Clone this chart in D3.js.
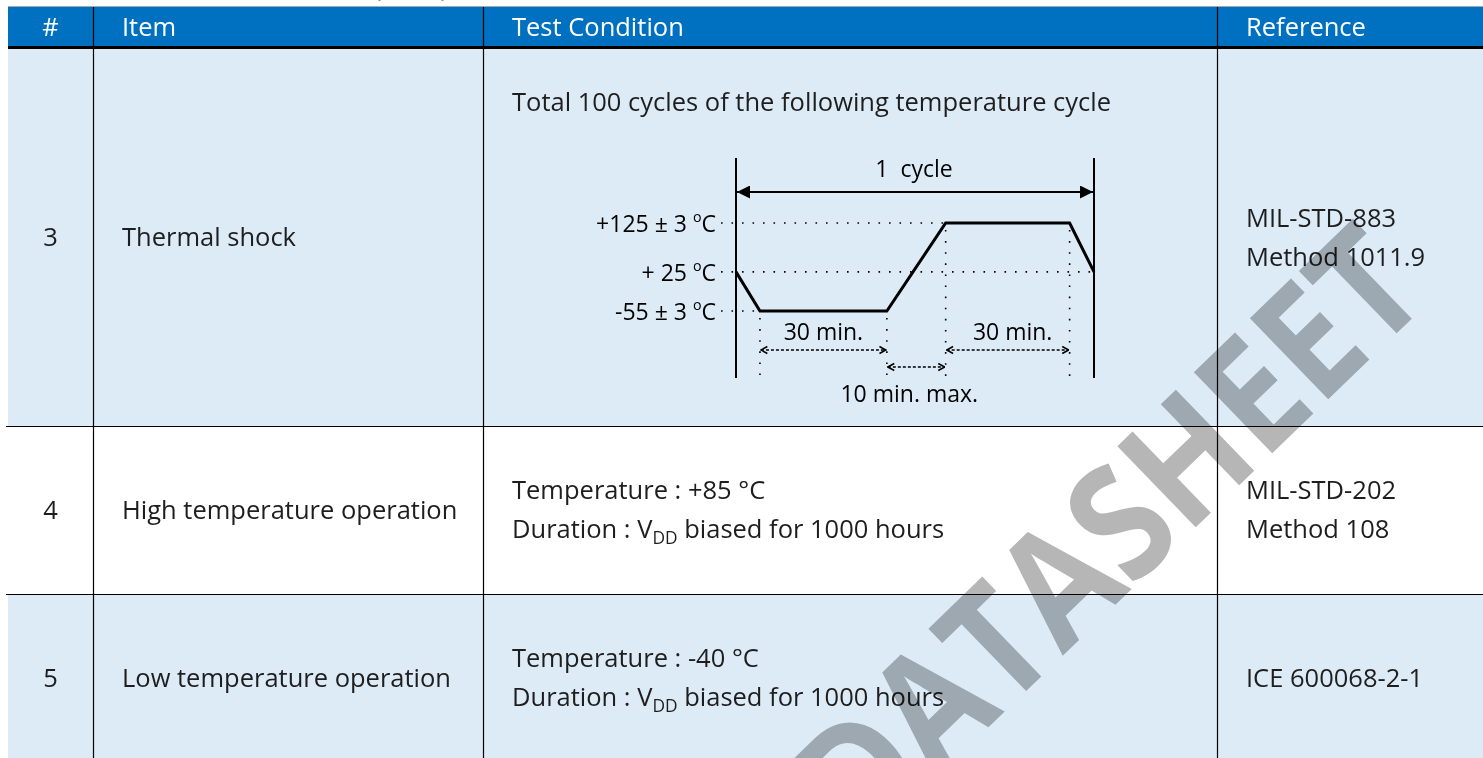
<!DOCTYPE html>
<html><head><meta charset="utf-8">
<script src="https://cdn.jsdelivr.net/npm/d3@7"></script>
<style>html,body{margin:0;padding:0;background:#fff;overflow:hidden}</style>
</head><body><svg id="c" width="1483" height="758"></svg>
<script>
// ---------------- DATA ----------------
const columns = ["#", "Item", "Test Condition", "Reference"];
const rowNumbers = ["3", "4", "5"];
const rowItems = ["Thermal shock", "High temperature operation", "Low temperature operation"];
const rowConditions = [
  ["Total 100 cycles of the following temperature cycle"],
  ["Temperature : +85 °C", "Duration : V_{DD} biased for 1000 hours"],
  ["Temperature : -40 °C", "Duration : V_{DD} biased for 1000 hours"]
];
const rowReferences = [
  ["MIL-STD-883", "Method 1011.9"],
  ["MIL-STD-202", "Method 108"],
  ["ICE 600068-2-1"]
];
// thermal cycle profile (schematic minutes / °C)
const cycleTimes = [0, 5.7, 35.9, 49.9, 79.4, 85.2];
const cycleTemps = [25, -55, -55, 125, 125, 25];
const levelTemps = [125, 25, -55];
const levelLabels = ["+125 ± 3 ^{o}C", "+ 25 ^{o}C", "-55 ± 3 ^{o}C"];
const levelDotEnds = [3, 5, 1];          // index into cycleTimes where each dotted guide ends
const spanFrom = [1, 2, 3];              // duration annotations (index into cycleTimes)
const spanTo = [2, 3, 4];
const spanLabels = ["30 min.", "10 min. max.", "30 min."];
const spanTier = [0, 1, 0];
const cycleLabel = "1  cycle";
const watermark = "DATASHEET";

// ---------------- LAYOUT ----------------
const W = 1483, H = 758;
const FONT = "'Open Sans', sans-serif";
const FS = 25.5;
const TXT = "#1e1e1e";
const colEdges = [8, 93, 483, 1217, 1483];
const headerTop = 7, headerBottom = 46, bodyTop = 49;
const rowHeights = [377, 168, 168];
const rowFills = ["#DDEBF7", "#FFFFFF", "#DDEBF7"];
const rowEdges = [bodyTop];
rowHeights.forEach(h => rowEdges.push(rowEdges[rowEdges.length - 1] + h));
const lineGap = 39;
const spanLabelShift = [0, -7, 5];

const svg = d3.select("#c");
const defs = svg.append("defs");

function rich(sel, str, size) {
  const parts = str.split(/(_\{[^}]*\}|\^\{[^}]*\})/).filter(s => s.length);
  let off = 0;
  parts.forEach(p => {
    let m, target = 0, fs = size, content = p;
    if ((m = p.match(/^_\{(.*)\}$/))) { target = size * 0.24; fs = size * 0.68; content = m[1]; }
    else if ((m = p.match(/^\^\{(.*)\}$/))) { target = -size * 0.45; fs = size * 0.62; content = m[1]; }
    sel.append("tspan").attr("dy", target - off).attr("font-size", fs).text(content);
    off = target;
  });
}

// partial caption above table (cut by page edge, as in the source)
svg.append("text").attr("x", 374).attr("y", -4).attr("font-family", FONT).attr("font-size", FS)
  .attr("fill", TXT).text("(cont.)");

// top grey rule
svg.append("line").attr("x1", colEdges[0]).attr("x2", W).attr("y1", 6.5).attr("y2", 6.5)
  .attr("stroke", "#a8a8a8").attr("stroke-width", 1);

// header
svg.append("rect").attr("x", colEdges[0]).attr("y", headerTop).attr("width", W - colEdges[0])
  .attr("height", headerBottom - headerTop + 1).attr("fill", "#0070C0");

// row backgrounds
svg.selectAll("rect.row").data(rowHeights).join("rect").attr("class", "row")
  .attr("x", colEdges[0]).attr("y", (d, i) => rowEdges[i]).attr("width", W - colEdges[0])
  .attr("height", d => d).attr("fill", (d, i) => rowFills[i]);

// header texts
const headerMid = (headerTop + headerBottom) / 2;
svg.selectAll("text.hdr").data(columns).join("text").attr("class", "hdr")
  .attr("x", (d, i) => i === 0 ? (colEdges[0] + colEdges[1]) / 2 : colEdges[i] + 29)
  .attr("y", headerMid + 9.5)
  .attr("text-anchor", (d, i) => i === 0 ? "middle" : "start")
  .attr("font-family", FONT).attr("font-size", FS).attr("fill", "#fff").text(d => d);

// body text
rowNumbers.forEach((n, i) => {
  const mid = (rowEdges[i] + rowEdges[i + 1]) / 2;
  svg.append("text").attr("x", (colEdges[0] + colEdges[1]) / 2).attr("y", mid + 8.5)
    .attr("text-anchor", "middle").attr("font-family", FONT).attr("font-size", FS).attr("fill", TXT).text(n);
  svg.append("text").attr("x", colEdges[1] + 29).attr("y", mid + 8.5)
    .attr("font-family", FONT).attr("font-size", FS).attr("fill", TXT).text(rowItems[i]);
  const refs = rowReferences[i];
  refs.forEach((r, k) => {
    svg.append("text").attr("x", colEdges[3] + 29)
      .attr("y", mid + 8.5 + (k - (refs.length - 1) / 2) * lineGap)
      .attr("font-family", FONT).attr("font-size", FS).attr("fill", TXT).text(r);
  });
  const conds = rowConditions[i];
  conds.forEach((c, k) => {
    const y = i === 0 ? rowEdges[i] + 62 : mid + 8.5 + (k - (conds.length - 1) / 2) * lineGap;
    const t = svg.append("text").attr("x", colEdges[2] + 29).attr("y", y)
      .attr("font-family", FONT).attr("font-size", FS).attr("fill", TXT);
    rich(t, c, FS);
  });
});

// ---------------- thermal cycle diagram ----------------
const xT = d3.scaleLinear().domain([0, d3.max(cycleTimes)]).range([736, 1094]);
const yT = d3.scaleLinear().domain([d3.min(levelTemps), d3.max(levelTemps)]).range([311, 223]);
const dg = svg.append("g");
const DFS = 23;
const frameTop = 158, frameBottom = 378, dotBottom = 376;
const cycleArrowY = 192;

defs.append("marker").attr("id", "solidArrow").attr("viewBox", "0 0 10 10").attr("refX", 10).attr("refY", 5)
  .attr("markerWidth", 16).attr("markerHeight", 13).attr("markerUnits", "userSpaceOnUse")
  .attr("orient", "auto-start-reverse")
  .append("path").attr("d", "M0,0L10,5L0,10z").attr("fill", "#000");
defs.append("marker").attr("id", "openArrow").attr("viewBox", "0 0 10 10").attr("refX", 9).attr("refY", 5)
  .attr("markerWidth", 8).attr("markerHeight", 11).attr("markerUnits", "userSpaceOnUse")
  .attr("orient", "auto-start-reverse")
  .append("path").attr("d", "M1,0.6L9,5L1,9.4").attr("fill", "none").attr("stroke", "#000").attr("stroke-width", 1.9);

// frame lines
[0, cycleTimes.length - 1].forEach(i => {
  dg.append("line").attr("x1", xT(cycleTimes[i])).attr("x2", xT(cycleTimes[i]))
    .attr("y1", frameTop).attr("y2", frameBottom).attr("stroke", "#000").attr("stroke-width", 2);
});
// cycle arrow
dg.append("line").attr("x1", xT(cycleTimes[0]) + 1).attr("x2", xT(d3.max(cycleTimes)) - 1)
  .attr("y1", cycleArrowY).attr("y2", cycleArrowY).attr("stroke", "#000").attr("stroke-width", 2.2)
  .attr("marker-start", "url(#solidArrow)").attr("marker-end", "url(#solidArrow)");
dg.append("text").attr("x", (xT(0) + xT(d3.max(cycleTimes))) / 2 - 1).attr("y", 177)
  .attr("text-anchor", "middle").attr("font-family", FONT).attr("font-size", DFS).attr("fill", "#000")
  .attr("xml:space", "preserve").style("white-space", "pre").text(cycleLabel);

// level guides & labels
const labelRight = 716;
levelTemps.forEach((t, i) => {
  dg.append("line").attr("x1", labelRight + 5).attr("x2", xT(cycleTimes[levelDotEnds[i]]))
    .attr("y1", yT(t)).attr("y2", yT(t)).attr("stroke", "#000").attr("stroke-width", 1.6)
    .attr("stroke-dasharray", "1.6,8.9").attr("stroke-linecap", "butt");
  const tx = dg.append("text").attr("x", labelRight).attr("y", yT(t) + 9).attr("text-anchor", "end")
    .attr("font-family", FONT).attr("font-size", DFS).attr("fill", "#000");
  rich(tx, levelLabels[i], DFS);
});

// vertical dotted guides at corners
[1, 2, 3, 4].forEach(i => {
  dg.append("line").attr("x1", xT(cycleTimes[i])).attr("x2", xT(cycleTimes[i]))
    .attr("y1", yT(cycleTemps[i]) + 7).attr("y2", dotBottom).attr("stroke", "#000").attr("stroke-width", 1.6)
    .attr("stroke-dasharray", "1.6,9.5");
});

// temperature profile
const line = d3.line().x(d => xT(d[0])).y(d => yT(d[1]));
dg.append("path").datum(cycleTimes.map((t, i) => [t, cycleTemps[i]])).attr("d", line)
  .attr("fill", "none").attr("stroke", "#000").attr("stroke-width", 3).attr("stroke-linejoin", "miter");

// duration annotations
const tierY = [350, 367];
spanLabels.forEach((lab, i) => {
  const x1 = xT(cycleTimes[spanFrom[i]]), x2 = xT(cycleTimes[spanTo[i]]);
  const y = tierY[spanTier[i]];
  dg.append("line").attr("x1", x1 + 1).attr("x2", x2 - 1).attr("y1", y).attr("y2", y)
    .attr("stroke", "#000").attr("stroke-width", 1.6).attr("stroke-dasharray", "3,2")
    .attr("marker-start", "url(#openArrow)").attr("marker-end", "url(#openArrow)");
  dg.append("text").attr("x", (x1 + x2) / 2 + spanLabelShift[i]).attr("y", spanTier[i] ? y + 35 : y - 10)
    .attr("text-anchor", "middle").attr("font-family", FONT).attr("font-size", DFS).attr("fill", "#000").text(lab);
});

// grid lines
svg.append("line").attr("x1", colEdges[0]).attr("x2", W).attr("y1", 47.5).attr("y2", 47.5)
  .attr("stroke", "#000").attr("stroke-width", 3);
rowEdges.slice(1, -1).forEach(y => {
  svg.append("line").attr("x1", 6).attr("x2", W).attr("y1", y + 0.5).attr("y2", y + 0.5)
    .attr("stroke", "#000").attr("stroke-width", 1.2);
});
colEdges.slice(1, -1).forEach(x => {
  svg.append("line").attr("x1", x + 0.5).attr("x2", x + 0.5).attr("y1", headerTop).attr("y2", H)
    .attr("stroke", "#000").attr("stroke-width", 1.2);
});

// watermark
svg.append("text").attr("transform", "translate(1108,533) rotate(-44) scale(0.88,1)")
  .attr("text-anchor", "middle").attr("dy", "0.36em")
  .attr("font-family", FONT).attr("font-weight", 700).attr("font-size", 158)
  .attr("fill", "#b6b6b6").style("mix-blend-mode", "multiply").text(watermark);
</script></body></html>
